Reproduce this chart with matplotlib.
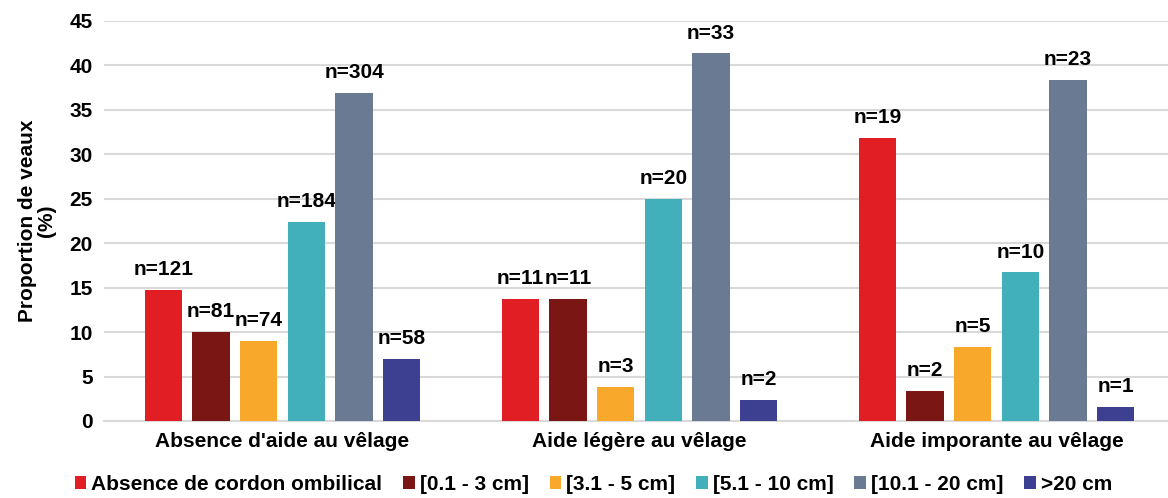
import matplotlib.pyplot as plt
import numpy as np

plt.rcParams['font.family'] = ['Liberation Sans', 'DejaVu Sans']

groups = ["Absence d'aide au vêlage", "Aide légère au vêlage", "Aide imporante au vêlage"]
series = ["Absence de cordon ombilical", "[0.1 - 3 cm]", "[3.1 - 5 cm]",
          "[5.1 - 10 cm]", "[10.1 - 20 cm]", ">20 cm"]
colors = ["#e01e24", "#7a1614", "#f8a92c", "#41b0bb", "#6a7a93", "#3d3f91"]

values = [
    [14.7, 13.7, 31.8],
    [10.0, 13.7, 3.4],
    [9.0, 3.8, 8.3],
    [22.4, 25.0, 16.7],
    [36.9, 41.3, 38.3],
    [7.0, 2.4, 1.6],
]
counts = [
    [121, 11, 19],
    [81, 11, 2],
    [74, 3, 5],
    [184, 20, 10],
    [304, 33, 23],
    [58, 2, 1],
]

fig = plt.figure(figsize=(11.68, 4.98), dpi=100)
ax = fig.add_axes([104/1168, 1-421/498, 1071/1168, (421-20.5)/498])

x = np.arange(len(groups))
pitch = 0.1336
width = 0.104
for i, (name, col) in enumerate(zip(series, colors)):
    pos = x + (i - 2.5) * pitch
    bars = ax.bar(pos, values[i], width, color=col, label=name, zorder=3)
    for b, n in zip(bars, counts[i]):
        ax.text(b.get_x() + b.get_width()/2, b.get_height() + 1.2, "n=%d" % n,
                ha='center', va='bottom', fontsize=15, fontweight='bold')

ax.set_xlim(-0.5, 2.5)
ax.set_ylim(0, 45)
ax.set_yticks(range(0, 46, 5))
ax.set_xticks(x)
ax.set_xticklabels(groups, fontsize=15, fontweight='bold')
for t in ax.get_yticklabels():
    t.set_fontsize(15)
    t.set_fontweight('bold')
ax.tick_params(length=0, pad=8)
ax.tick_params(axis='x', pad=8)
ax.grid(axis='y', color='#d9d9d9', lw=1.5, zorder=0)
for s in ['top', 'right', 'left']:
    ax.spines[s].set_visible(False)
ax.spines['bottom'].set_color('#d9d9d9')
ax.spines['bottom'].set_linewidth(1.5)

ax.set_ylabel("Proportion de veaux\n(%)", fontsize=15, fontweight='bold', linespacing=1.0)
ax.yaxis.set_label_coords(-0.045, 0.5)

fig.legend(loc='center', bbox_to_anchor=(0.508, 0.027), ncol=6, frameon=False,
           prop={'weight': 'bold', 'size': 15},
           handlelength=0.55, handleheight=0.55, handletextpad=0.25, columnspacing=1.0)

fig.savefig('out.png', dpi=100)
